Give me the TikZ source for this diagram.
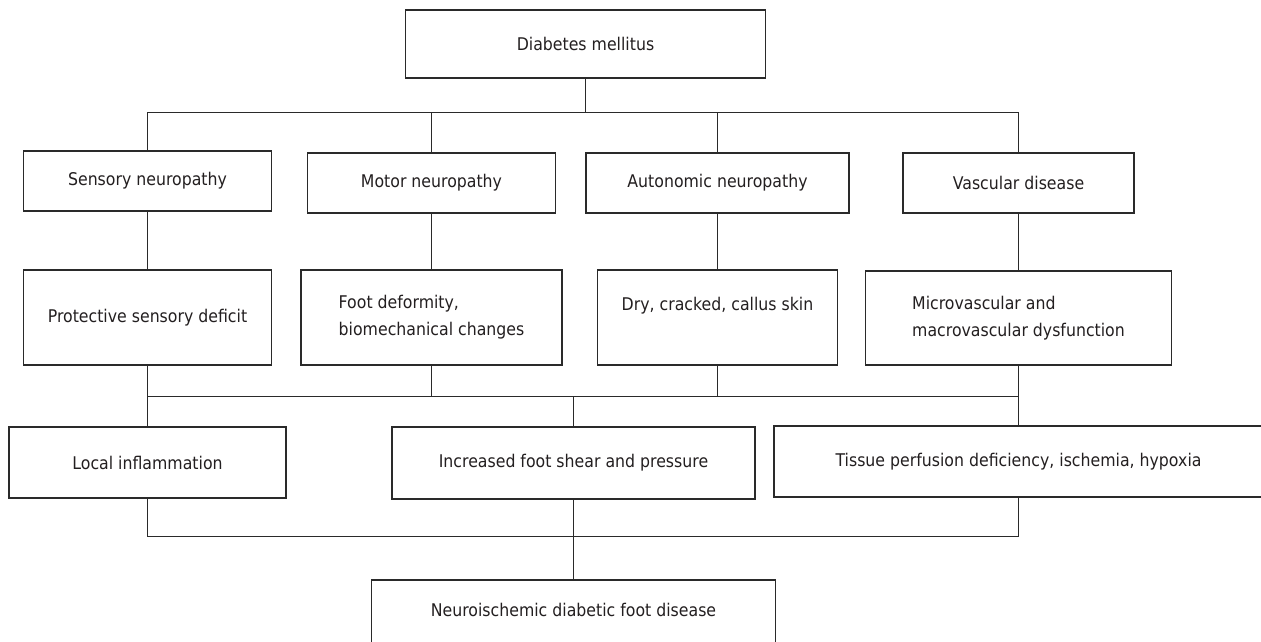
\documentclass[tikz,border=0pt]{standalone}
\usepackage{fontspec}
\setmainfont{DejaVu Sans}[FakeStretch=0.9]
\begin{document}
\begin{tikzpicture}[x=1pt,y=-1pt,
  box/.style={draw=linecol, line width=1.1pt, inner sep=0pt, fill=white,
    text=textcol, font=\fontsize{17.5}{27}\selectfont},
  conn/.style={draw=linecol, line width=1.1pt}]
\definecolor{linecol}{HTML}{2A2A2A}
\definecolor{textcol}{HTML}{231F20}
\useasboundingbox (0,0) rectangle (1261,641);
\clip (0,0) rectangle (1261,641);
% row 0
\node[box, minimum width=360pt, minimum height=68pt] (dm) at (585.5,44) {Diabetes mellitus};
% row 1
\node[box, minimum width=248pt, minimum height=60pt] (s1) at (147.5,181) {Sensory neuropathy};
\node[box, minimum width=248pt, minimum height=60pt] (s2) at (431.5,183) {Motor neuropathy};
\node[box, minimum width=263pt, minimum height=60pt] (s3) at (717.5,183) {Autonomic neuropathy};
\node[box, minimum width=231pt, minimum height=60pt] (s4) at (1018.5,183) {Vascular disease};
% row 2
\node[box, minimum width=248pt, minimum height=95pt] (r1) at (147.5,317.5) {Protective sensory deficit};
\node[box, minimum width=261pt, minimum height=95pt, align=left] (r2) at (431.5,317.5) {Foot deformity,\\biomechanical changes};
\node[box, minimum width=240pt, minimum height=95pt, align=left] (r3) at (717.5,317.5) {Dry, cracked, callus skin\\\mbox{}};
\node[box, minimum width=306pt, minimum height=94pt, align=left] (r4) at (1018.5,318) {Microvascular and\\macrovascular dysfunction};
% row 3
\node[box, minimum width=277pt, minimum height=71pt] (t1) at (147.5,462.5) {Local inflammation};
\node[box, minimum width=363pt, minimum height=72pt] (t2) at (573.5,463) {Increased foot shear and pressure};
\node[box, minimum width=489pt, minimum height=71pt] (t3) at (1018.5,461.5) {Tissue perfusion deficiency, ischemia, hypoxia};
% bottom
\node[box, minimum width=404pt, minimum height=70pt] (n) at (573.5,615) {Neuroischemic diabetic foot disease\rule[-10pt]{0pt}{0pt}};
% bus coordinates
\coordinate (b1) at (585.5,112.5);
\coordinate (b2) at (573.5,396.5);
\coordinate (b3) at (573.5,536.5);
% connectors level 1
\draw[conn] (dm.south) -- (b1);
\draw[conn] (s1.north) -- (s1.north |- b1) -- (s4.north |- b1) -- (s4.north);
\draw[conn] (s2.north) -- (s2.north |- b1);
\draw[conn] (s3.north) -- (s3.north |- b1);
% level 2
\draw[conn] (s1.south) -- (s1.south |- r1.north);
\draw[conn] (s2.south) -- (s2.south |- r2.north);
\draw[conn] (s3.south) -- (s3.south |- r3.north);
\draw[conn] (s4.south) -- (s4.south |- r4.north);
% level 3
\draw[conn] (r1.south) -- (r1.south |- b2) -- (r4.south |- b2) -- (r4.south);
\draw[conn] (r2.south) -- (r2.south |- b2);
\draw[conn] (r3.south) -- (r3.south |- b2);
\draw[conn] (r1.south |- b2) -- (r1.south |- t1.north);
\draw[conn] (b2) -- (t2.north);
\draw[conn] (r4.south |- b2) -- (r4.south |- t3.north);
% level 4
\draw[conn] (t1.south) -- (t1.south |- b3) -- (t3.south |- b3) -- (t3.south);
\draw[conn] (t2.south) -- (n.north);
\end{tikzpicture}
\end{document}
